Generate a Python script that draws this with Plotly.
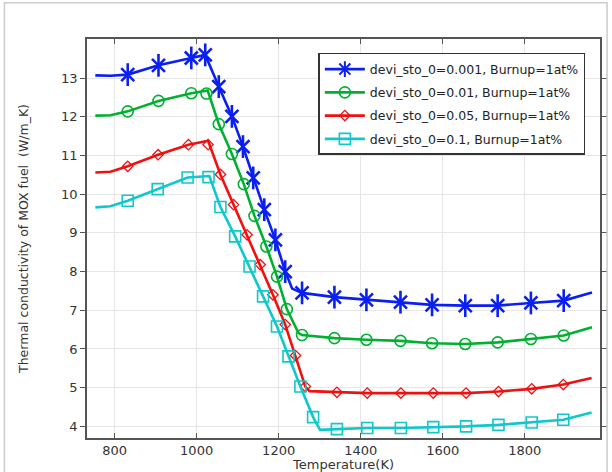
import plotly.graph_objects as go

# ---- data ----
# line paths (temperature K, conductivity W/m_K)
T_line_blue = [753, 790, 832, 907, 987, 1021, 1054, 1086, 1113, 1138, 1165, 1192, 1216, 1233, 1257, 1336, 1414, 1497, 1574, 1655, 1734, 1815, 1895, 1964]
k_line_blue = [13.07, 13.06, 13.09, 13.33, 13.52, 13.60, 12.78, 12.01, 11.23, 10.42, 9.60, 8.82, 8.00, 7.56, 7.45, 7.34, 7.27, 7.21, 7.14, 7.12, 7.12, 7.19, 7.25, 7.46]
T_mark_blue = [832, 907, 987, 1021, 1054, 1086, 1113, 1138, 1165, 1192, 1216, 1257, 1336, 1414, 1497, 1574, 1655, 1734, 1815, 1895]
k_mark_blue = [13.09, 13.33, 13.52, 13.60, 12.78, 12.01, 11.23, 10.42, 9.60, 8.82, 8.00, 7.45, 7.34, 7.27, 7.21, 7.14, 7.12, 7.12, 7.19, 7.25]

T_line_green = [753, 790, 832, 907, 987, 1027, 1054, 1086, 1115, 1141, 1170, 1196, 1220, 1248, 1257, 1336, 1414, 1497, 1574, 1655, 1734, 1815, 1895, 1964]
k_line_green = [12.03, 12.04, 12.14, 12.41, 12.61, 12.68, 11.81, 11.04, 10.26, 9.44, 8.65, 7.87, 7.03, 6.42, 6.36, 6.28, 6.24, 6.21, 6.15, 6.13, 6.17, 6.26, 6.35, 6.56]
T_mark_green = [832, 907, 987, 1024, 1054, 1086, 1115, 1141, 1170, 1196, 1220, 1257, 1336, 1414, 1497, 1574, 1655, 1734, 1815, 1895]
k_mark_green = [12.14, 12.41, 12.61, 12.60, 11.81, 11.04, 10.26, 9.44, 8.65, 7.87, 7.03, 6.36, 6.28, 6.24, 6.21, 6.15, 6.13, 6.17, 6.26, 6.35]

T_line_red = [753, 790, 832, 906, 980, 1028, 1058, 1090, 1123, 1155, 1186, 1216, 1241, 1265, 1275, 1342, 1416, 1498, 1577, 1657, 1736, 1817, 1894, 1963]
k_line_red = [10.56, 10.58, 10.72, 11.02, 11.28, 11.38, 10.51, 9.73, 8.95, 8.18, 7.40, 6.63, 5.83, 5.03, 4.91, 4.88, 4.86, 4.86, 4.86, 4.86, 4.90, 4.97, 5.08, 5.25]
T_mark_red = [832, 906, 980, 1028, 1058, 1090, 1123, 1155, 1186, 1216, 1241, 1265, 1342, 1416, 1498, 1577, 1657, 1736, 1817, 1894]
k_mark_red = [10.72, 11.02, 11.28, 11.28, 10.51, 9.73, 8.95, 8.18, 7.40, 6.63, 5.83, 5.03, 4.88, 4.86, 4.86, 4.86, 4.86, 4.90, 4.97, 5.08]

T_line_cyan = [753, 790, 832, 905, 978, 1031, 1058, 1094, 1129, 1162, 1196, 1224, 1253, 1284, 1301, 1342, 1416, 1498, 1577, 1657, 1736, 1817, 1894, 1963]
k_line_cyan = [9.66, 9.69, 9.83, 10.13, 10.43, 10.47, 9.67, 8.91, 8.13, 7.36, 6.58, 5.81, 5.03, 4.24, 3.91, 3.93, 3.96, 3.96, 3.98, 4.00, 4.04, 4.10, 4.17, 4.36]
T_mark_cyan = [832, 905, 978, 1029, 1058, 1094, 1129, 1162, 1196, 1224, 1253, 1284, 1342, 1416, 1498, 1577, 1657, 1736, 1817, 1894]
k_mark_cyan = [9.83, 10.13, 10.43, 10.44, 9.67, 8.91, 8.13, 7.36, 6.58, 5.81, 5.03, 4.24, 3.93, 3.96, 3.96, 3.98, 4.00, 4.04, 4.10, 4.17]

names = ["devi_sto_0=0.001, Burnup=1at%", "devi_sto_0=0.01, Burnup=1at%",
         "devi_sto_0=0.05, Burnup=1at%", "devi_sto_0=0.1, Burnup=1at%"]
x_ticks = [800, 1000, 1200, 1400, 1600, 1800]
y_ticks = [4, 5, 6, 7, 8, 9, 10, 11, 12, 13]

# (line T, line k, marker T, marker k, colour, marker symbols, marker size, marker line width)
series = [
    (T_line_blue, k_line_blue, T_mark_blue, k_mark_blue, "#0a1ff0", ["x-thin-open", "line-ns-open"], 13, 2.6),
    (T_line_green, k_line_green, T_mark_green, k_mark_green, "#00b030", ["circle-open"], 11, 1.6),
    (T_line_red, k_line_red, T_mark_red, k_mark_red, "#f01010", ["diamond-open"], 8, 1.3),
    (T_line_cyan, k_line_cyan, T_mark_cyan, k_mark_cyan, "#10c8cc", ["square-open"], 11, 1.6),
]
legend_symbols = ["asterisk-open", "circle-open", "diamond-open", "square-open"]

FONT = "DejaVu Sans"
fig = go.Figure()
for i, (tl, kl, tm, km, col, syms, msz, mlw) in enumerate(series):
    fig.add_trace(go.Scatter(x=tl, y=kl, mode="lines", line=dict(color=col, width=2.6),
                             showlegend=False, hoverinfo="skip"))
    for sym in syms:
        sz = msz * (1.25 if sym == "line-ns-open" else 1.0)
        fig.add_trace(go.Scatter(x=tm, y=km, mode="markers",
                                 marker=dict(symbol=sym, size=sz, color=col, line=dict(color=col, width=mlw)),
                                 showlegend=False))
    fig.add_trace(go.Scatter(x=[None], y=[None], mode="lines+markers", name=names[i],
                             legendgroup="g%d" % i,
                             line=dict(color=col, width=2.6),
                             marker=dict(symbol=legend_symbols[i], size=msz, color=col,
                                         line=dict(color=col, width=min(mlw, 2.0)))))

axis_common = dict(showline=True, linecolor="#555555", linewidth=1.6, mirror="ticks",
                   showgrid=True, gridcolor="#e6e6e6", gridwidth=1, zeroline=False,
                   tickcolor="#555555", ticklen=5, tickwidth=1.2,
                   tickfont=dict(family=FONT, size=13, color="#333333"))

fig.update_xaxes(range=[732.7, 1983.5], tickvals=x_ticks, ticks="inside",
                 title=dict(text="Temperature(K)", font=dict(family=FONT, size=13, color="#333333"), standoff=0),
                 **axis_common)
fig.update_yaxes(range=[3.70, 14.01], tickvals=y_ticks, ticks="outside",
                 title=dict(text="Thermal conductivity of MOX fuel  (W/m_K)",
                            font=dict(family=FONT, size=12.5, color="#333333"), standoff=30),
                 **axis_common)

# frame around the picture (light grey)
fig.add_shape(type="path", xref="paper", yref="paper",
              path="M -0.161 -0.09 L -0.161 1.091 L 1.0138 1.091 L 1.0138 -0.09",
              line=dict(color="#cccccc", width=1.5))

fig.update_layout(
    width=612, height=472,
    margin=dict(l=87, r=12, t=39, b=34, autoexpand=False),
    paper_bgcolor="white", plot_bgcolor="white",
    font=dict(family=FONT, size=13, color="#333333"),
    legend=dict(x=0.451, y=0.965, xanchor="left", yanchor="top",
                bgcolor="white", bordercolor="#333333", borderwidth=1.5,
                font=dict(family=FONT, size=12.5, color="#222222"),
                itemwidth=40,
                tracegroupgap=4, traceorder="grouped"),
)

fig.write_html("out.html")
